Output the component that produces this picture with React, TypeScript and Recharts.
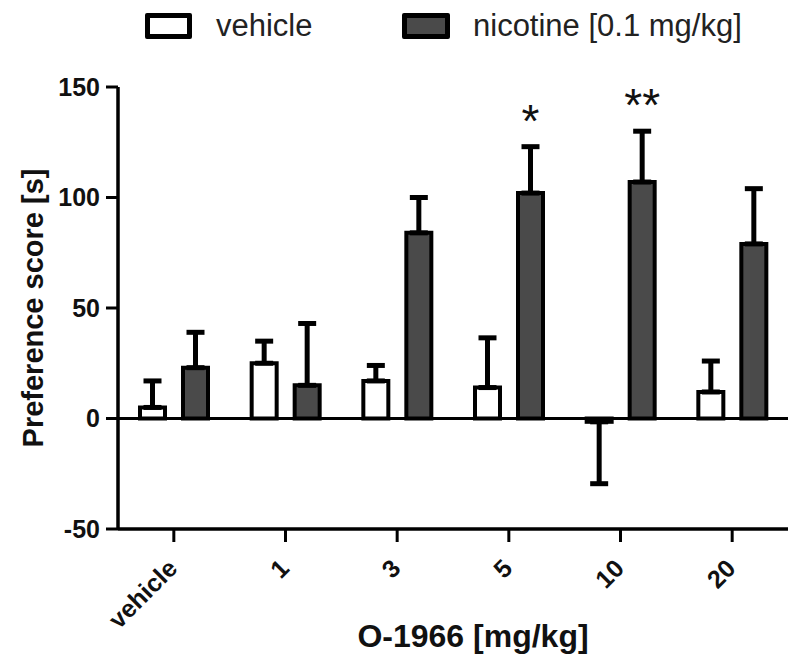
import React from 'react';
import { BarChart, Bar, XAxis, YAxis, ErrorBar, ReferenceLine, Legend, LabelList, Label } from 'recharts';

const doses = ['vehicle', '1', '3', '5', '10', '20'];
const vehicleMean = [5, 25, 17, 14, -1.5, 12];
const vehicleSem = [12, 10, 7, 22.5, 28, 14];
const nicotineMean = [23, 15, 84, 102, 107, 79];
const nicotineSem = [16, 28, 16, 21, 23, 25];
const significance = ['', '', '', '*', '**', ''];
const yTicks = [-50, 0, 50, 100, 150];

const FONT = '"Liberation Sans", Arial, Helvetica, sans-serif';

// one-sided SEM bars: up for positive means, down for negative ones
const oneSided = (mean: number, sem: number) => (mean >= 0 ? [0, sem] : [sem, 0]);

const data = doses.map((d, i) => ({
  dose: d,
  vehicle: vehicleMean[i],
  vehicleErr: oneSided(vehicleMean[i], vehicleSem[i]),
  nicotine: nicotineMean[i],
  nicotineErr: oneSided(nicotineMean[i], nicotineSem[i]),
  sig: significance[i],
}));

const XTick = ({ x, y, payload }: any) => {
  const tx = x + 5;
  const ty = y + 28;
  return (
    <text
      x={tx}
      y={ty}
      textAnchor="end"
      transform={`rotate(-45, ${tx}, ${ty})`}
      fontFamily={FONT}
      fontWeight="bold"
      fontSize={25}
      fill="#111"
    >
      {payload.value}
    </text>
  );
};

const StarLabel = (props: any) => {
  const { x, y, width, height, index, value } = props;
  if (!value) return null;
  const pxPerUnit = height / nicotineMean[index];
  const errTop = y - nicotineSem[index] * pxPerUnit;
  return (
    <text x={x + width / 2} y={errTop - 10} textAnchor="middle" fontFamily={FONT} fontSize={46} fill="#111">
      {value}
    </text>
  );
};

const LegendBox = () => (
  <div style={{ position: 'relative', height: 50, width: 800, fontFamily: FONT, fontSize: 31, color: '#222' }}>
    <div style={{ position: 'absolute', left: 145, top: 13, width: 37, height: 16, border: '5px solid #000', borderRadius: 2, background: '#fff' }} />
    <span style={{ position: 'absolute', left: 216, top: 10, lineHeight: '31px' }}>vehicle</span>
    <div style={{ position: 'absolute', left: 402, top: 13, width: 38, height: 16, border: '5px solid #000', borderRadius: 2, background: '#4a4a4a' }} />
    <span style={{ position: 'absolute', left: 473, top: 10, lineHeight: '31px' }}>nicotine [0.1 mg/kg]</span>
  </div>
);

const YLabel = (props: any) => {
  const vb = props.viewBox;
  const cy = vb.y + vb.height / 2;
  return (
    <text x={43} y={cy} textAnchor="middle" transform={`rotate(-90, 43, ${cy})`} fontFamily={FONT} fontWeight="bold" fontSize={29} fill="#111">
      Preference score [s]
    </text>
  );
};

const XLabel = (props: any) => {
  const vb = props.viewBox;
  return (
    <text x={vb.x + vb.width / 2 + 20} y={647} textAnchor="middle" fontFamily={FONT} fontWeight="bold" fontSize={32} fill="#111">
      O-1966 [mg/kg]
    </text>
  );
};

export default function App() {
  return (
    <div style={{ position: 'absolute', left: 0, top: 0, width: 800, height: 665, background: '#fff' }}>
      <BarChart width={800} height={665} data={data} margin={{ top: 37, right: 12, bottom: 0, left: 0 }} barSize={25} barGap={18}>
        <Legend verticalAlign="top" height={50} content={<LegendBox />} wrapperStyle={{ left: 0, top: 0, width: 800 }} />
        <XAxis
          dataKey="dose"
          height={136}
          tick={<XTick />}
          tickSize={13}
          tickMargin={0}
          interval={0}
          axisLine={{ stroke: '#000', strokeWidth: 3.5 }}
          tickLine={{ stroke: '#000', strokeWidth: 3 }}
        >
          <Label content={<XLabel />} />
        </XAxis>
        <YAxis
          width={118}
          domain={[-50, 150]}
          ticks={yTicks}
          interval={0}
          tickSize={12}
          tickMargin={6}
          axisLine={{ stroke: '#000', strokeWidth: 3.5 }}
          tickLine={{ stroke: '#000', strokeWidth: 3 }}
          tick={{ fill: '#111', fontFamily: FONT, fontWeight: 'bold', fontSize: 25 }}
        >
          <Label content={<YLabel />} />
        </YAxis>
        <ReferenceLine y={0} stroke="#000" strokeWidth={3} />
        <Bar dataKey="vehicle" fill="#fff" stroke="#000" strokeWidth={4} isAnimationActive={false}>
          <ErrorBar dataKey="vehicleErr" width={9} strokeWidth={5} stroke="#000" direction="y" isAnimationActive={false} />
        </Bar>
        <Bar dataKey="nicotine" fill="#4a4a4a" stroke="#000" strokeWidth={4} isAnimationActive={false}>
          <ErrorBar dataKey="nicotineErr" width={9} strokeWidth={5} stroke="#000" direction="y" isAnimationActive={false} />
          <LabelList dataKey="sig" content={<StarLabel />} />
        </Bar>
      </BarChart>
    </div>
  );
}
